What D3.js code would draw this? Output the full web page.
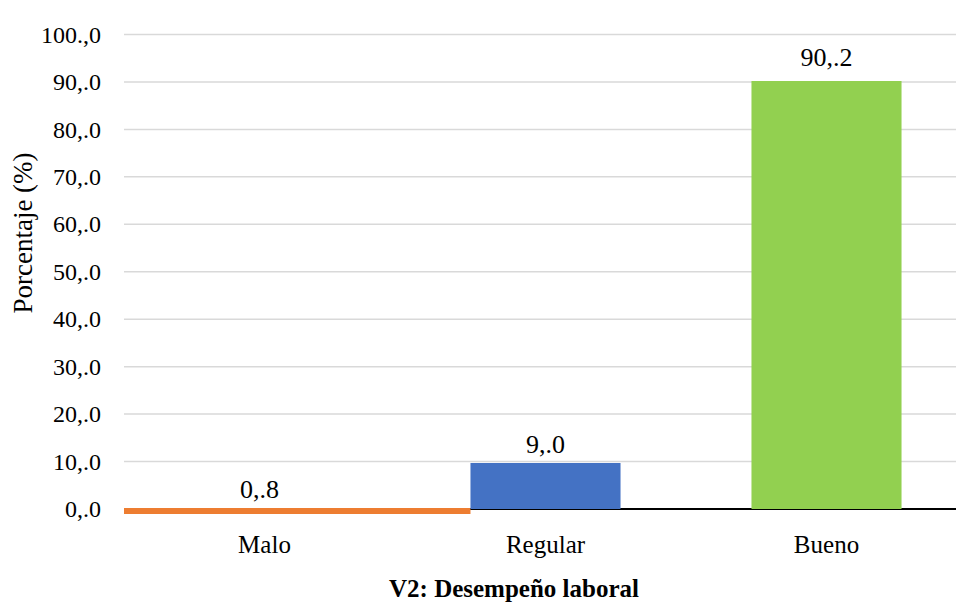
<!DOCTYPE html>
<html>
<head>
<meta charset="utf-8">
<script src="https://cdn.jsdelivr.net/npm/d3@7"></script>
<style>
  body { margin: 0; background: #fff; }
  svg text { font-family: "Liberation Serif", "Times New Roman", Tinos, serif; }
</style>
</head>
<body>
<div id="wrapper"></div>
<script>
const categories = ["Malo", "Regular", "Bueno"]
const values = [0.8, 9.7, 90.2]
const valueLabels = ["0,.8", "9,.0", "90,.2"]
const colors = ["#ed7d31", "#4472c4", "#92d050"]
const yTicks = [0, 10, 20, 30, 40, 50, 60, 70, 80, 90, 100]
const yTickLabels = ["0,.0", "10,.0", "20,.0", "30,.0", "40,.0", "50,.0", "60,.0", "70,.0", "80,.0", "90,.0", "100.,0"]

function drawBars() {
  // dimensions
  const dimensions = {
    width: 956,
    height: 605,
    margin: { top: 34.5, right: -11, bottom: 96, left: 124 }
  }
  dimensions.boundedWidth = dimensions.width - dimensions.margin.left - dimensions.margin.right
  dimensions.boundedHeight = dimensions.height - dimensions.margin.top - dimensions.margin.bottom

  const fontSize = "25px"

  const wrapper = d3.select("#wrapper")
    .append("svg")
      .attr("width", dimensions.width)
      .attr("height", dimensions.height)

  const bounds = wrapper.append("g")
    .attr("transform", `translate(${dimensions.margin.left},${dimensions.margin.top})`)

  // scales
  const xScale = d3.scaleBand()
    .domain(categories)
    .range([0, dimensions.boundedWidth])
    .paddingInner(0.466)
    .paddingOuter(0.233)

  const yScale = d3.scaleLinear()
    .domain([0, 100])
    .range([dimensions.boundedHeight, 0])

  // gridlines
  bounds.append("g")
    .selectAll("line")
    .data(yTicks.filter(d => d > 0))
    .join("line")
      .attr("x1", 0)
      .attr("x2", dimensions.boundedWidth)
      .attr("y1", d => yScale(d))
      .attr("y2", d => yScale(d))
      .attr("stroke", "#d9d9d9")
      .attr("stroke-width", 1.5)

  // y tick labels
  bounds.append("g")
    .selectAll("text")
    .data(yTicks)
    .join("text")
      .attr("x", -23)
      .attr("y", d => yScale(d))
      .attr("dy", "0.34em")
      .attr("text-anchor", "end")
      .style("font-size", "24px")
      .text((d, i) => yTickLabels[i])

  // baseline
  bounds.append("line")
    .attr("x1", 0)
    .attr("x2", dimensions.boundedWidth)
    .attr("y1", yScale(0))
    .attr("y2", yScale(0))
    .attr("stroke", "#000")
    .attr("stroke-width", 2)

  // bars (first bar spans from the axis to the next bar, as in the source)
  const barData = categories.map((c, i) => ({ c, v: values[i], label: valueLabels[i], color: colors[i] }))
  const barTop = (d, i) => i === 0 ? yScale(0) - 1 : yScale(d.v)

  bounds.append("g")
    .selectAll("rect")
    .data(barData)
    .join("rect")
      .attr("x", (d, i) => i === 0 ? 0 : xScale(d.c))
      .attr("width", (d, i) => i === 0 ? xScale(categories[1]) : xScale.bandwidth())
      .attr("y", barTop)
      .attr("height", (d, i) => i === 0 ? 6 : yScale(0) - yScale(d.v))
      .attr("fill", d => d.color)

  // value labels
  bounds.append("g")
    .selectAll("text")
    .data(barData)
    .join("text")
      .attr("x", (d, i) => xScale(d.c) + xScale.bandwidth() / 2 - (i === 0 ? 5 : 0))
      .attr("y", (d, i) => barTop(d, i) - (i === 2 ? 15 : 10))
      .attr("text-anchor", "middle")
      .style("font-size", "26px")
      .text(d => d.label)

  // x category labels
  bounds.append("g")
    .selectAll("text")
    .data(categories)
    .join("text")
      .attr("x", d => xScale(d) + xScale.bandwidth() / 2)
      .attr("y", yScale(0) + 44)
      .attr("text-anchor", "middle")
      .style("font-size", fontSize)
      .text(d => d)

  // axis titles
  wrapper.append("text")
    .attr("x", 514)
    .attr("y", 597)
    .attr("text-anchor", "middle")
    .style("font-size", fontSize)
    .style("font-weight", "bold")
    .text("V2: Desempeño laboral")

  wrapper.append("text")
    .attr("transform", `translate(32,233) rotate(-90)`)
    .attr("text-anchor", "middle")
    .style("font-size", "27px")
    .text("Porcentaje (%)")
}

drawBars()
</script>
</body>
</html>
